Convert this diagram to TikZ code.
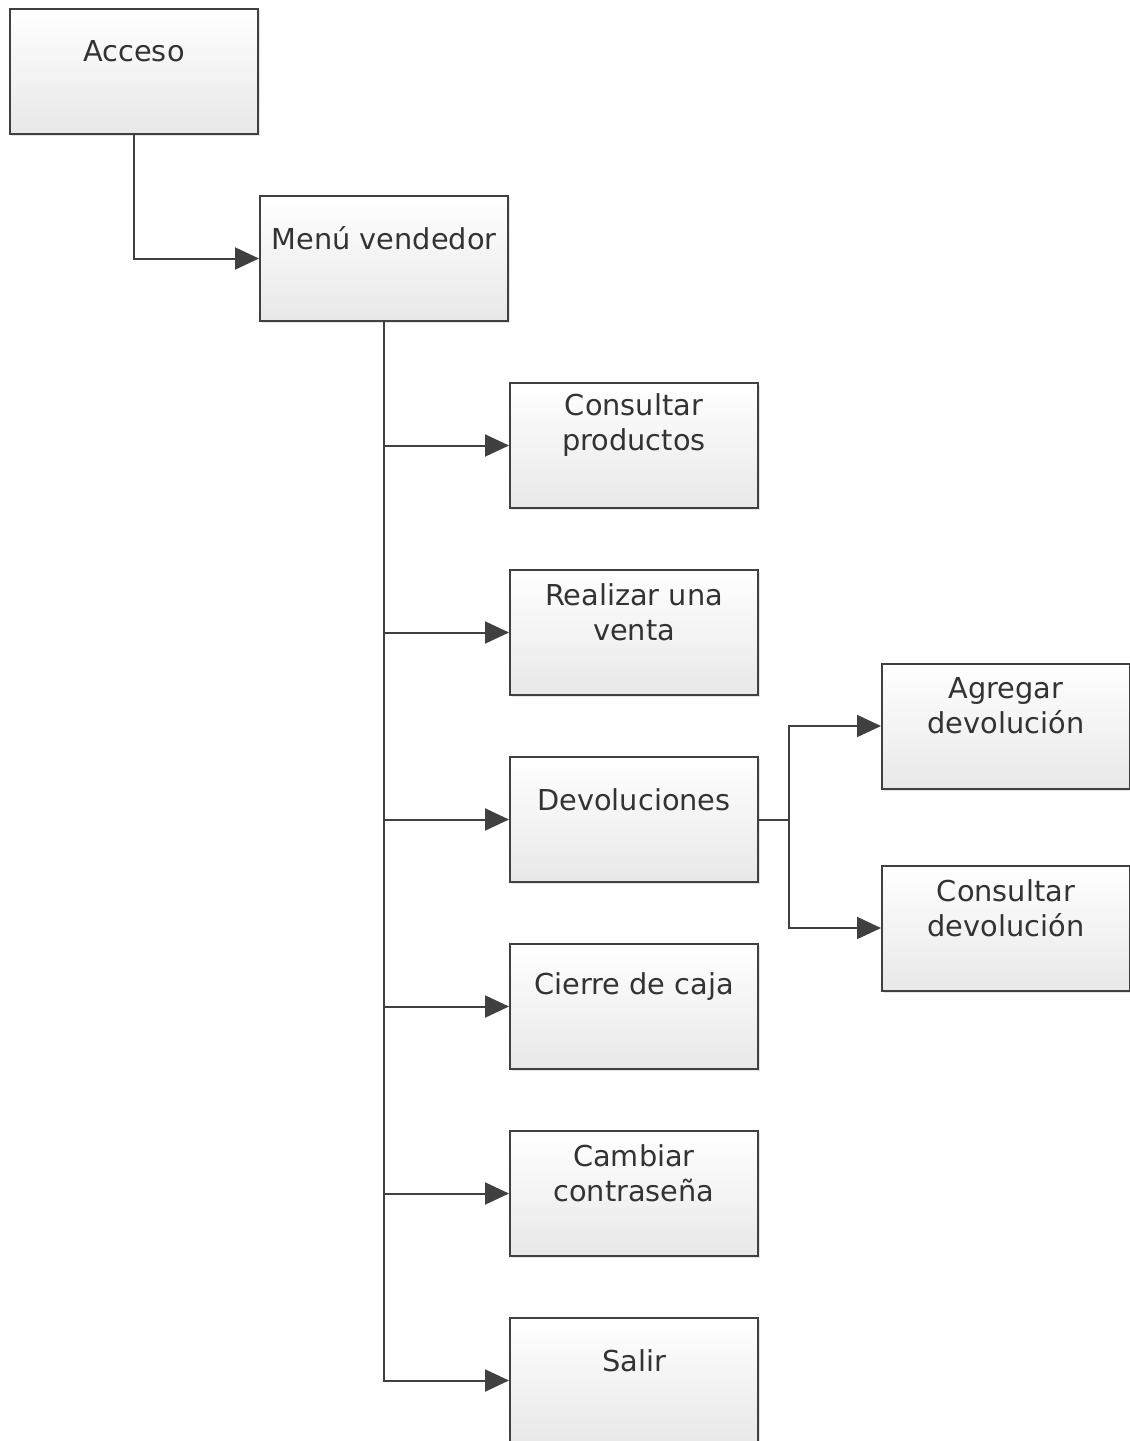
\documentclass[tikz,border=0pt]{standalone}
\usepackage{fontspec}
\setmainfont{DejaVu Sans}
\usetikzlibrary{positioning,shadows,arrows.meta}
\tikzstyle{box} = [draw=black!75,line width=1pt,top color=white,bottom color=black!9,minimum width=124pt,minimum height=62.5pt,inner sep=0pt,drop shadow={shadow xshift=1.2pt,shadow yshift=-1.2pt,opacity=0.2}]
\tikzstyle{txt} = [yshift=10pt,align=center,text=black!80,font=\fontsize{14.4}{17.5}\selectfont]
\tikzstyle{arrow} = [draw=black!75,line width=1pt,-{Triangle[length=12pt,width=11pt]}]
\begin{document}
\begin{tikzpicture}[x=0.5pt,y=-0.5pt]
  \useasboundingbox[fill=white] (0,0) rectangle (1130,1441);
  \node[box,label={[txt]center:Acceso}] (acceso) at (134,71.5) {};
  \node[box,label={[txt]center:Menú vendedor},below right=30pt and 0pt of acceso] (menu) {};
  \node[box,label={[txt]center:Consultar\\productos},below right=30pt and 0pt of menu] (cons) {};
  \node[box,label={[txt]center:Realizar una\\venta},below=30pt of cons] (venta) {};
  \node[box,label={[txt]center:Devoluciones},below=30pt of venta] (dev) {};
  \node[box,label={[txt]center:Cierre de caja},below=30pt of dev] (cierre) {};
  \node[box,label={[txt]center:Cambiar\\contraseña},below=30pt of cierre] (clave) {};
  \node[box,label={[txt]center:Salir},below=30pt of clave] (salir) {};
  \node[box,label={[txt]center:Agregar\\devolución},right=61pt of dev,yshift=46.75pt] (agregar) {};
  \node[box,label={[txt]center:Consultar\\devolución},below=37.5pt of agregar] (consdev) {};
  \draw[arrow] (acceso.south) |- (menu.west);
  \draw[arrow] (menu.south) |- (salir.west);
  \foreach \n in {cons,venta,dev,cierre,clave}
    \draw[arrow] (menu.south |- \n.west) -- (\n.west);
  \draw[draw=black!75,line width=1pt] (dev.east) -- ++(15pt,0) coordinate (split);
  \draw[arrow] (split) |- (agregar.west);
  \draw[arrow] (split) |- (consdev.west);
\end{tikzpicture}
\end{document}
